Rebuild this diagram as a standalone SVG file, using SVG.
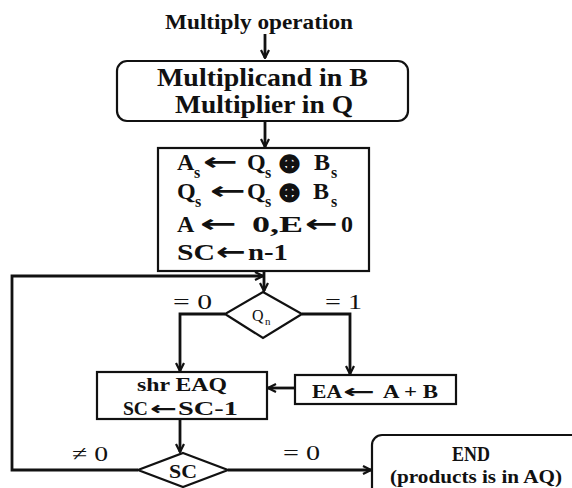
<svg xmlns="http://www.w3.org/2000/svg" width="572" height="488" viewBox="0 0 572 488">
<defs>
<style>
.bx{fill:#fff;stroke:#111;stroke-width:2.2}
.cn{fill:none;stroke:#111;stroke-width:2.8}
.b{font-family:"Liberation Serif","Times New Roman",serif;font-weight:bold;fill:#111}
.r{font-family:"Liberation Serif","Times New Roman",serif;fill:#111}
.ar{font-family:"DejaVu Sans",sans-serif;font-weight:bold;fill:#111}
.op{font-family:"DejaVu Sans",sans-serif;font-weight:bold;fill:#111;stroke:#111;stroke-width:2}
</style>
<marker id="ah" viewBox="0 0 10 10" refX="9" refY="5" markerWidth="10" markerHeight="10" markerUnits="userSpaceOnUse" orient="auto">
<path d="M1,1 L9,5 L1,9" fill="none" stroke="#111" stroke-width="2.2"/>
</marker>
</defs>
<rect width="572" height="488" fill="#fff"/>

<g id="connectors">
<line class="cn" x1="265" y1="34" x2="265" y2="58" marker-end="url(#ah)"/>
<line class="cn" x1="265" y1="121" x2="265" y2="147" marker-end="url(#ah)"/>
<line class="cn" x1="264" y1="271" x2="264" y2="291" marker-end="url(#ah)"/>
<polyline class="cn" points="138,470 12,470 12,276 263,276" marker-end="url(#ah)"/>
<polyline class="cn" points="225,314 180,314 180,371" marker-end="url(#ah)"/>
<polyline class="cn" points="302,314 350,314 350,374" marker-end="url(#ah)"/>
<line class="cn" x1="295" y1="388" x2="268" y2="388" marker-end="url(#ah)"/>
<line class="cn" x1="180" y1="419" x2="180" y2="452" marker-end="url(#ah)"/>
<line class="cn" x1="228" y1="470" x2="371" y2="470" marker-end="url(#ah)"/>
</g>

<g id="title">
<text class="b" x="165" y="29" font-size="20" textLength="188" lengthAdjust="spacingAndGlyphs">Multiply operation</text>
</g>

<g id="start">
<rect class="bx" x="117" y="61" width="291" height="60" rx="10"/>
<text class="b" x="157" y="86" font-size="25" textLength="211" lengthAdjust="spacingAndGlyphs">Multiplicand in B</text>
<text class="b" x="175" y="113" font-size="25" textLength="178" lengthAdjust="spacingAndGlyphs">Multiplier in Q</text>
</g>

<g id="init">
<rect class="bx" x="158" y="148" width="211" height="123"/>
<text class="b" x="177" y="170" font-size="24">A</text>
<text class="b" x="194" y="178" font-size="16">s</text>
<text class="ar" x="203" y="170" font-size="24" textLength="35" lengthAdjust="spacingAndGlyphs">←</text>
<text class="b" x="247" y="170" font-size="24">Q</text>
<text class="b" x="265" y="178" font-size="16">s</text>
<text class="op" x="278" y="172" font-size="26" textLength="23" lengthAdjust="spacingAndGlyphs">⊕</text>
<text class="b" x="314" y="170" font-size="24">B</text>
<text class="b" x="331" y="178" font-size="16">s</text>

<text class="b" x="177" y="199" font-size="24">Q</text>
<text class="b" x="195" y="207" font-size="16">s</text>
<text class="ar" x="210" y="199" font-size="24" textLength="36" lengthAdjust="spacingAndGlyphs">←</text>
<text class="b" x="247" y="199" font-size="24">Q</text>
<text class="b" x="265" y="207" font-size="16">s</text>
<text class="op" x="278" y="201" font-size="26" textLength="23" lengthAdjust="spacingAndGlyphs">⊕</text>
<text class="b" x="313" y="199" font-size="24">B</text>
<text class="b" x="331" y="207" font-size="16">s</text>

<text class="b" x="177" y="232" font-size="24">A</text>
<text class="ar" x="200" y="232" font-size="24" textLength="37" lengthAdjust="spacingAndGlyphs">←</text>
<text class="b" x="252" y="232" font-size="24" textLength="51" lengthAdjust="spacingAndGlyphs">0,E</text>
<text class="ar" x="305" y="232" font-size="24" textLength="33" lengthAdjust="spacingAndGlyphs">←</text>
<text class="b" x="341" y="232" font-size="24">0</text>

<text class="b" x="177" y="260" font-size="24" textLength="38" lengthAdjust="spacingAndGlyphs">SC</text>
<text class="ar" x="216" y="260" font-size="24" textLength="30" lengthAdjust="spacingAndGlyphs">←</text>
<text class="b" x="248" y="260" font-size="24" textLength="40" lengthAdjust="spacingAndGlyphs">n-1</text>
</g>

<g id="testQn">
<polygon class="bx" points="263,292 302,314 263,338 225,314"/>
<text class="r" x="252" y="321" font-size="16">Q</text>
<text class="r" x="265" y="325" font-size="11">n</text>
</g>

<g id="labels">
<text class="r" x="173" y="309" font-size="22" textLength="39" lengthAdjust="spacingAndGlyphs">= 0</text>
<text class="r" x="325" y="309" font-size="22" textLength="37" lengthAdjust="spacingAndGlyphs">= 1</text>
<text class="r" x="72" y="461" font-size="22" textLength="36" lengthAdjust="spacingAndGlyphs">≠ 0</text>
<text class="r" x="283" y="460" font-size="22" textLength="37" lengthAdjust="spacingAndGlyphs">= 0</text>
</g>

<g id="add">
<rect class="bx" x="295" y="375" width="161" height="29"/>
<text class="b" x="312" y="398" font-size="19" textLength="30" lengthAdjust="spacingAndGlyphs">EA</text>
<text class="ar" x="343" y="398" font-size="19" textLength="32" lengthAdjust="spacingAndGlyphs">←</text>
<text class="b" x="383" y="398" font-size="19" textLength="55" lengthAdjust="spacingAndGlyphs">A + B</text>
</g>

<g id="shift">
<rect class="bx" x="97" y="372" width="170" height="47"/>
<text class="b" x="137" y="391" font-size="19" textLength="90" lengthAdjust="spacingAndGlyphs">shr EAQ</text>
<text class="b" x="123" y="415" font-size="19" textLength="25" lengthAdjust="spacingAndGlyphs">SC</text>
<text class="ar" x="150" y="415" font-size="19" textLength="27" lengthAdjust="spacingAndGlyphs">←</text>
<text class="b" x="178" y="415" font-size="19" textLength="60" lengthAdjust="spacingAndGlyphs">SC-1</text>
</g>

<g id="testSC">
<polygon class="bx" points="183,453 228,470 183,487 138,470"/>
<text class="b" x="169" y="478" font-size="19" textLength="28" lengthAdjust="spacingAndGlyphs">SC</text>
</g>

<g id="end">
<rect class="bx" x="372" y="435" width="220" height="70" rx="10"/>
<text class="b" x="452" y="461" font-size="20" textLength="38" lengthAdjust="spacingAndGlyphs">END</text>
<text class="b" x="390" y="483" font-size="19" textLength="172" lengthAdjust="spacingAndGlyphs">(products is in AQ)</text>
</g>
</svg>
